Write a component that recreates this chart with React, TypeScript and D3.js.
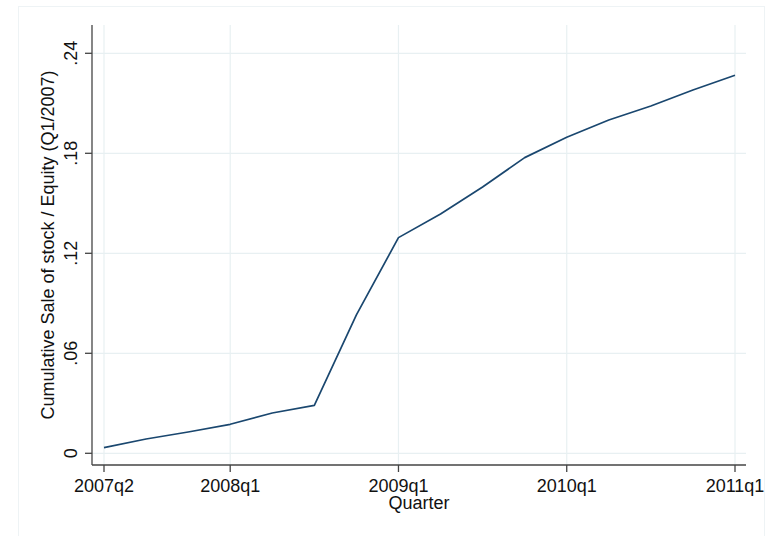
import React from "react";
import * as d3 from "d3";

const quarters = [
  "2007q2", "2007q3", "2007q4", "2008q1", "2008q2", "2008q3", "2008q4",
  "2009q1", "2009q2", "2009q3", "2009q4", "2010q1", "2010q2", "2010q3",
  "2010q4", "2011q1",
];
const values = [
  0.0034, 0.0086, 0.0128, 0.0174, 0.0242, 0.0288, 0.083,
  0.1294, 0.1436, 0.1598, 0.1774, 0.1896, 0.2, 0.2084,
  0.218, 0.2268,
];
const xTickLabels = ["2007q2", "2008q1", "2009q1", "2010q1", "2011q1"];
const yTicks = [0, 0.06, 0.12, 0.18, 0.24];
const yTickLabels = ["0", ".06", ".12", ".18", ".24"];

const W = 774;
const H = 536;
const FONT = "'Liberation Sans', Arial, Helvetica, sans-serif";

export default function App() {
  const x = d3.scaleLinear().domain([0, quarters.length - 1]).range([104, 735]);
  const y = d3.scaleLinear().domain([0, 0.24]).range([453.3, 53.3]);
  const left = 92;
  const right = 746;
  const top = 25;
  const bottom = 465;
  const grid = "#e8f0f2";
  const line = d3
    .line<number>()
    .x((_, i) => x(i))
    .y((d) => y(d));

  return (
    <svg
      width={W}
      height={H}
      style={{ position: "absolute", left: 0, top: 0, background: "#fff" }}
      fontFamily={FONT}
    >
      <rect x={0} y={0} width={W} height={H} fill="#fff" />
      <rect x={18.5} y={6.5} width={746} height={535} fill="none" stroke="#eef3f5" strokeWidth={1} />
      {/* grid */}
      {yTicks.map((t) => (
        <line key={"gy" + t} x1={left} x2={right} y1={y(t)} y2={y(t)} stroke={grid} strokeWidth={1.2} />
      ))}
      {xTickLabels.map((q) => {
        const xi = x(quarters.indexOf(q));
        return <line key={"gx" + q} x1={xi} x2={xi} y1={top} y2={bottom} stroke={grid} strokeWidth={1.2} />;
      })}
      {/* axes */}
      <line x1={left} x2={left} y1={top} y2={bottom} stroke="#444" strokeWidth={1.3} />
      <line x1={left} x2={right} y1={bottom} y2={bottom} stroke="#444" strokeWidth={1.3} />
      {yTicks.map((t, i) => (
        <g key={"yt" + t}>
          <line x1={left - 7} x2={left} y1={y(t)} y2={y(t)} stroke="#444" strokeWidth={1.3} />
          <text
            transform={`translate(77,${y(t)}) rotate(-90)`}
            textAnchor="middle"
            fontSize={18}
            fill="#111"
          >
            {yTickLabels[i]}
          </text>
        </g>
      ))}
      {xTickLabels.map((q) => {
        const xi = x(quarters.indexOf(q));
        return (
          <g key={"xt" + q}>
            <line x1={xi} x2={xi} y1={bottom} y2={bottom + 7} stroke="#444" strokeWidth={1.3} />
            <text x={xi} y={491.5} textAnchor="middle" fontSize={18} fill="#111">
              {q}
            </text>
          </g>
        );
      })}
      <text x={(left + right) / 2} y={509} textAnchor="middle" fontSize={18} fill="#111">
        Quarter
      </text>
      <text
        transform={`translate(54,${(top + bottom) / 2}) rotate(-90)`}
        textAnchor="middle"
        fontSize={18}
        fill="#111"
      >
        Cumulative Sale of stock / Equity (Q1/2007)
      </text>
      <path d={line(values) || ""} fill="none" stroke="#1a476f" strokeWidth={1.7} strokeLinejoin="round" />
    </svg>
  );
}
